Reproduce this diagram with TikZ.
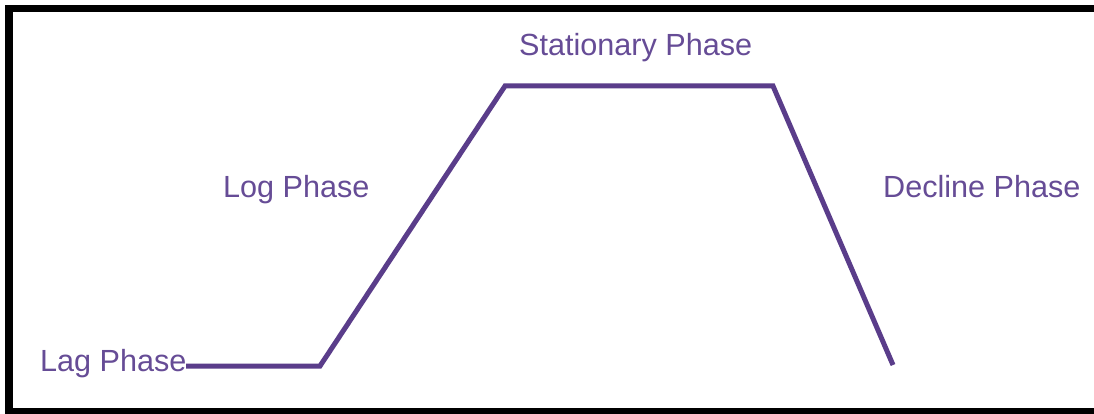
\documentclass[tikz,border=0pt]{standalone}
\usepackage{fontspec}
\setmainfont{Liberation Sans}
\definecolor{curvecol}{HTML}{5A3D8A}
\definecolor{textcol}{HTML}{664C96}
\begin{document}
\begin{tikzpicture}[x=1pt,y=-1pt,
  phase/.style={text=textcol,font=\fontsize{30.6}{36}\selectfont,inner sep=0pt,anchor=base west},
  curve/.style={draw=curvecol,line width=5pt,line join=miter}]
\useasboundingbox (0,0) rectangle (1094,414);
\fill[white] (0,0) rectangle (1094,414);
% frame
\fill[black] (5,5) rectangle (13,414);
\fill[black] (5,5) rectangle (1094,12);
\fill[black] (5,408) rectangle (1094,414);
% labels
\node[phase] (lag) at (40,371) {Lag Phase};
\node[phase] (log) at (223,197) {Log Phase};
\node[phase] (stat) at (519,56) {Stationary Phase};
\node[phase] (decl) at (883,197) {Decline Phase};
% growth curve
\coordinate (a) at (186,366);
\coordinate (b) at (320,366);
\coordinate (c) at (505,86);
\coordinate (d) at (773,86);
\coordinate (e) at (893,365);
\draw[curve] (a) -- (b) -- (c) -- (d) -- (e);
\end{tikzpicture}
\end{document}
